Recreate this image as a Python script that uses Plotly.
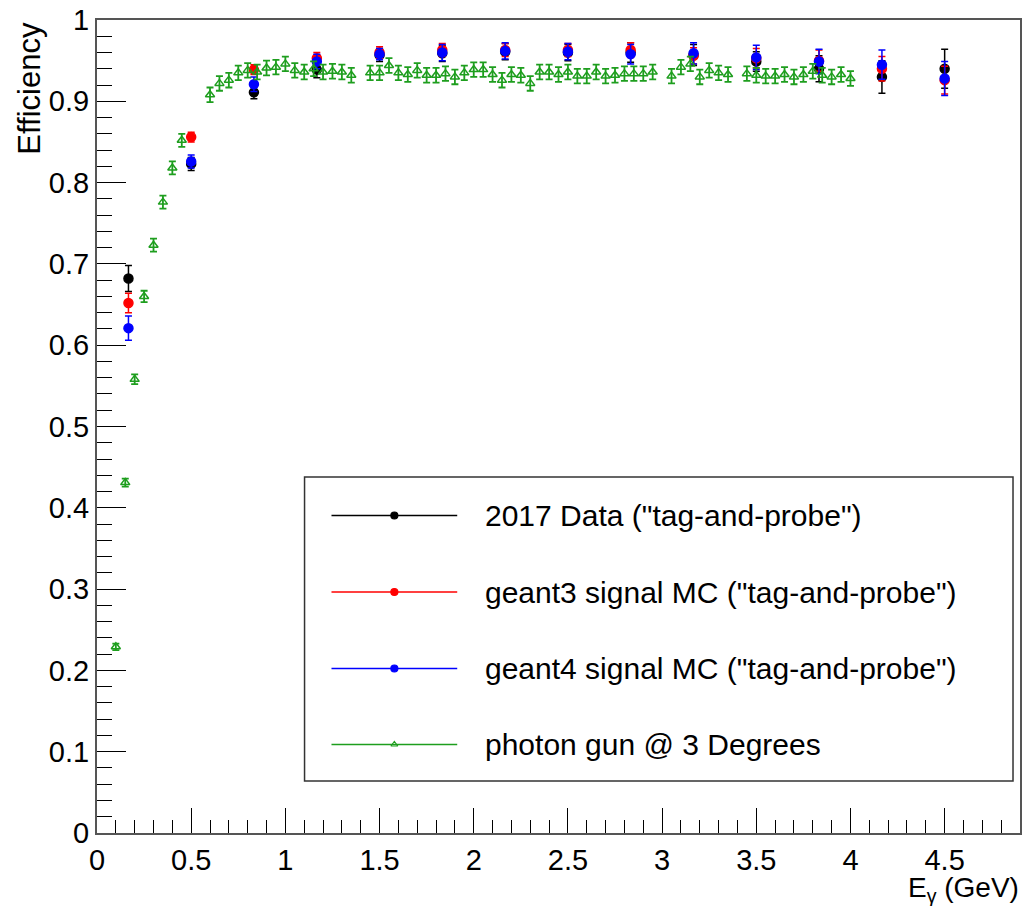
import plotly.graph_objects as go

# ---------------- data ----------------
bin_x = [0.167, 0.5, 0.833, 1.167, 1.5, 1.833, 2.167, 2.5, 2.833, 3.167, 3.5, 3.833, 4.167, 4.5]

data_eff = [0.682, 0.823, 0.911, 0.939, 0.957, 0.959, 0.961, 0.960, 0.960, 0.957, 0.949, 0.940, 0.930, 0.940]
data_err = [0.016, 0.008, 0.008, 0.010, 0.008, 0.010, 0.010, 0.010, 0.012, 0.013, 0.012, 0.016, 0.020, 0.024]

g3_eff = [0.652, 0.856, 0.939, 0.953, 0.960, 0.963, 0.963, 0.963, 0.963, 0.956, 0.953, 0.950, 0.940, 0.926]
g3_err = [0.012, 0.006, 0.006, 0.007, 0.007, 0.008, 0.008, 0.008, 0.009, 0.010, 0.012, 0.013, 0.015, 0.017]

g4_eff = [0.621, 0.826, 0.921, 0.949, 0.958, 0.960, 0.962, 0.961, 0.958, 0.959, 0.954, 0.949, 0.945, 0.928]
g4_err = [0.015, 0.008, 0.009, 0.009, 0.007, 0.010, 0.010, 0.010, 0.012, 0.013, 0.015, 0.015, 0.018, 0.021]

gun_x = [0.10, 0.15, 0.20, 0.25, 0.30, 0.35, 0.40, 0.45,
         0.60, 0.65, 0.70, 0.75, 0.80, 0.85, 0.90, 0.95, 1.00, 1.05, 1.10, 1.15, 1.20, 1.25, 1.30, 1.35,
         1.45, 1.50, 1.55, 1.60, 1.65, 1.70, 1.75, 1.80, 1.85, 1.90, 1.95, 2.00, 2.05, 2.10, 2.15, 2.20,
         2.25, 2.30, 2.35, 2.40, 2.45, 2.50, 2.55, 2.60, 2.65, 2.70, 2.75, 2.80, 2.85, 2.90, 2.95,
         3.05, 3.10, 3.15, 3.20, 3.25, 3.30, 3.35,
         3.45, 3.50, 3.55, 3.60, 3.65, 3.70, 3.75, 3.80, 3.85, 3.90, 3.95, 4.00]
gun_eff = [0.229, 0.431, 0.558, 0.660, 0.723, 0.776, 0.818, 0.852,
           0.908, 0.922, 0.926, 0.935, 0.938, 0.936, 0.941, 0.942, 0.946, 0.938, 0.936, 0.940, 0.936, 0.937, 0.936, 0.932,
           0.935, 0.935, 0.944, 0.935, 0.933, 0.938, 0.932, 0.932, 0.934, 0.930, 0.935, 0.939, 0.939, 0.933, 0.926, 0.933,
           0.932, 0.922, 0.936, 0.936, 0.933, 0.936, 0.931, 0.931, 0.936, 0.931, 0.932, 0.934, 0.934, 0.934, 0.936,
           0.931, 0.942, 0.946, 0.930, 0.938, 0.935, 0.933,
           0.934, 0.932, 0.931, 0.931, 0.933, 0.930, 0.933, 0.937, 0.932, 0.930, 0.933, 0.928]
gun_err = [0.004, 0.005, 0.006, 0.007, 0.008, 0.008, 0.008, 0.008] + [0.009] * (len(gun_x) - 8)

legend_labels = ['2017 Data ("tag-and-probe")',
                 'geant3 signal MC ("tag-and-probe")',
                 'geant4 signal MC ("tag-and-probe")',
                 'photon gun @ 3 Degrees']

GREEN = "#1e9e1e"
FONT = "Liberation Sans, Arial, Helvetica, sans-serif"

# plot frame in pixels
W, H = 1025, 906
L, R, T, B = 97, 1022, 20, 833


def pxx(x):
    return (x - L) / (R - L)


def pxy(y):
    return (B - y) / (B - T)


fig = go.Figure()


def add_series(x, y, e, color, symbol, size, cap, lw, name):
    fig.add_trace(go.Scatter(
        x=x, y=y, mode="markers", name=name, showlegend=False,
        marker=dict(color=color, symbol=symbol, size=size,
                    line=dict(color=color, width=1.5)),
        error_y=dict(type="data", array=e, visible=True, color=color,
                     thickness=lw, width=cap),
    ))


add_series(bin_x, data_eff, data_err, "black", "circle", 9, 3.5, 1.5, legend_labels[0])
add_series(bin_x, g3_eff, g3_err, "red", "circle", 9, 3.5, 1.5, legend_labels[1])
add_series(bin_x, g4_eff, g4_err, "blue", "circle", 9, 3.5, 1.5, legend_labels[2])
add_series(gun_x, gun_eff, gun_err, GREEN, "triangle-up-open", 8, 3.5, 1.8, legend_labels[3])

# ---------------- manual legend (ROOT style) ----------------
leg_rows = [515.5, 592, 668.5, 744.5]
leg_colors = ["black", "red", "blue", GREEN]
leg_symbols = ["circle", "circle", "circle", "triangle-up-open"]
leg_sizes = [7, 7, 7, 6]
shapes = []
annotations = []
shapes.append(dict(type="rect", xref="paper", yref="paper",
                   x0=pxx(305), x1=pxx(1015), y0=pxy(781), y1=pxy(477),
                   line=dict(color="#333333", width=1.5), fillcolor="white", layer="below"))
for i, yy in enumerate(leg_rows):
    fig.add_trace(go.Scatter(
        x=[332, 458], y=[yy, yy], mode="lines", xaxis="x2", yaxis="y2",
        line=dict(color=leg_colors[i], width=1.5), showlegend=False, hoverinfo="skip"))
    fig.add_trace(go.Scatter(
        x=[395], y=[yy], mode="markers", xaxis="x2", yaxis="y2",
        marker=dict(color=leg_colors[i], symbol=leg_symbols[i], size=leg_sizes[i],
                    line=dict(color=leg_colors[i], width=1.2)),
        showlegend=False, hoverinfo="skip"))
    annotations.append(dict(text=legend_labels[i], xref="paper", yref="paper",
                            x=pxx(484), y=pxy(yy), xanchor="left", yanchor="middle",
                            showarrow=False, font=dict(family=FONT, size=30, color="black")))

# axis titles
annotations.append(dict(text="Efficiency", xref="paper", yref="paper",
                        x=pxx(29), y=pxy(20), xanchor="center", yanchor="top",
                        textangle=-90, showarrow=False,
                        font=dict(family=FONT, size=31, color="black")))
annotations.append(dict(text="E<sub>γ</sub> (GeV)", xref="paper", yref="paper",
                        x=pxx(1023), y=pxy(889), xanchor="right", yanchor="middle",
                        showarrow=False, font=dict(family=FONT, size=28, color="black")))

axis_common = dict(showgrid=False, zeroline=False, showline=True, mirror=True,
                   linecolor="#555555", linewidth=2, ticks="inside",
                   tickcolor="black", tickwidth=1,
                   tickfont=dict(family=FONT, size=29, color="black"))

fig.update_layout(
    width=W, height=H,
    margin=dict(l=L, r=W - R, t=T, b=H - B),
    paper_bgcolor="white", plot_bgcolor="white",
    showlegend=False,
    xaxis=dict(range=[0, 4.9], tick0=0, dtick=0.5, ticklen=25,
               minor=dict(dtick=0.1, ticklen=13, ticks="inside", tickcolor="black", tickwidth=1),
               **axis_common),
    yaxis=dict(range=[0, 1], tick0=0, dtick=0.1, ticklen=29,
               minor=dict(dtick=0.02, ticklen=15, ticks="inside", tickcolor="black", tickwidth=1),
               **axis_common),
    xaxis2=dict(overlaying="x", range=[L, R], visible=False, fixedrange=True),
    yaxis2=dict(overlaying="y", range=[B, T], visible=False, fixedrange=True),
    shapes=shapes,
    annotations=annotations,
)

fig.write_html("out.html")
